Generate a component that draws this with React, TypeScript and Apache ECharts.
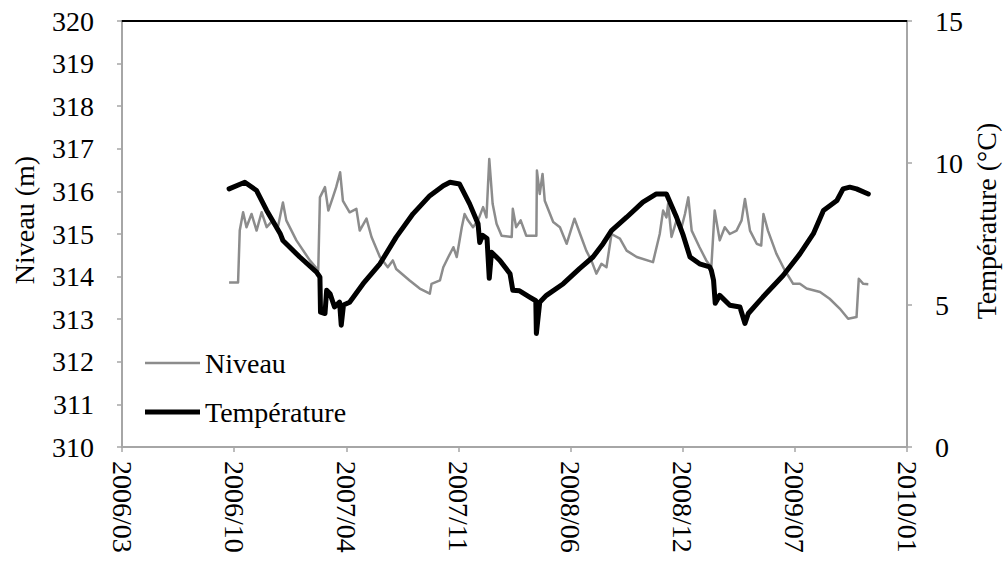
import React, { useEffect, useRef } from "react";
import * as echarts from "echarts";

// Niveau (m) — left axis
const niveauDates = [
  "2006-10-01","2006-10-17","2006-10-20","2006-10-26","2006-11-01","2006-11-10","2006-11-19","2006-11-28",
  "2006-12-07","2006-12-18","2006-12-27","2007-01-05","2007-01-11","2007-01-29","2007-02-22","2007-03-09",
  "2007-03-12","2007-03-21","2007-03-27","2007-04-04","2007-04-10","2007-04-17","2007-04-22","2007-05-04",
  "2007-05-16","2007-05-22","2007-06-03","2007-06-12","2007-06-27","2007-07-11","2007-07-20","2007-07-26",
  "2007-08-19","2007-09-06","2007-09-24","2007-09-27","2007-10-12","2007-10-18","2007-10-27","2007-11-05",
  "2007-11-11","2007-11-20","2007-11-25","2007-12-01","2007-12-10","2007-12-19","2007-12-28","2008-01-03",
  "2008-01-08","2008-01-14","2008-01-21","2008-01-30","2008-02-17","2008-02-19","2008-02-25","2008-03-04",
  "2008-03-14","2008-04-01","2008-04-02","2008-04-07","2008-04-12","2008-04-16","2008-05-01","2008-05-13",
  "2008-05-25","2008-06-08","2008-06-20","2008-06-29","2008-07-08","2008-07-17","2008-07-26","2008-08-04",
  "2008-08-13","2008-08-28","2008-09-09","2008-09-27","2008-10-26","2008-11-07","2008-11-13","2008-11-19",
  "2008-11-22","2008-11-28","2008-12-07","2008-12-16","2008-12-22","2008-12-28","2009-01-03","2009-01-17",
  "2009-01-29","2009-02-07","2009-02-13","2009-02-22","2009-03-03","2009-03-12","2009-03-24","2009-04-02",
  "2009-04-08","2009-04-17","2009-04-29","2009-05-07","2009-05-11","2009-05-19","2009-06-03","2009-06-18",
  "2009-07-03","2009-07-15","2009-07-27","2009-08-20","2009-09-06","2009-09-24","2009-10-09","2009-10-24",
  "2009-10-28","2009-11-05","2009-11-14"
];
const niveauValues = [
  313.86,313.86,315.08,315.51,315.16,315.47,315.08,315.51,
  315.16,315.32,315.16,315.74,315.32,314.85,314.38,314.15,
  315.86,316.1,315.55,315.86,316.1,316.45,315.78,315.51,
  315.59,315.08,315.36,314.93,314.46,314.22,314.38,314.18,
  313.91,313.72,313.6,313.83,313.91,314.22,314.46,314.69,
  314.46,315.16,315.47,315.32,315.16,315.32,315.63,315.39,
  316.76,315.71,315.24,314.96,314.93,315.59,315.16,315.32,
  314.96,314.96,316.49,315.94,316.41,315.78,315.28,315.16,
  314.77,315.36,314.93,314.61,314.38,314.07,314.3,314.22,
  315.0,314.89,314.61,314.46,314.34,315.0,315.55,315.39,
  315.71,314.93,315.32,315.16,315.47,315.86,315.08,314.69,
  314.38,314.22,315.55,314.85,315.16,315.0,315.08,315.32,
  315.82,315.08,314.77,314.73,315.47,315.08,314.54,314.15,
  313.83,313.83,313.72,313.64,313.48,313.25,313.01,313.05,
  313.95,313.83,313.82
];

// Température (°C) — right axis
const tempDates = [
  "2006-10-01","2006-10-29","2006-11-19","2006-12-07","2006-12-31","2007-01-05","2007-02-04","2007-03-06",
  "2007-03-12","2007-03-13","2007-03-21","2007-03-24","2007-03-30","2007-04-07","2007-04-16","2007-04-19",
  "2007-04-23","2007-05-04","2007-05-28","2007-06-27","2007-07-26","2007-08-25","2007-09-24","2007-10-18",
  "2007-10-30","2007-11-16","2007-12-04","2007-12-19","2007-12-22","2007-12-27","2008-01-04","2008-01-08",
  "2008-01-12","2008-01-27","2008-02-14","2008-02-19","2008-03-02","2008-03-20","2008-03-31","2008-04-01",
  "2008-04-07","2008-04-19","2008-05-19","2008-06-17","2008-07-11","2008-07-29","2008-08-13","2008-09-09",
  "2008-10-08","2008-11-01","2008-11-19","2008-12-07","2008-12-19","2008-12-31","2009-01-17","2009-02-04",
  "2009-02-07","2009-02-11","2009-02-14","2009-02-22","2009-03-12","2009-03-30","2009-04-08","2009-04-14",
  "2009-05-10","2009-06-15","2009-07-15","2009-08-08","2009-08-26","2009-09-19","2009-09-30","2009-10-12",
  "2009-10-24","2009-11-14"
];
const tempValues = [
  9.09,9.32,9.03,8.33,7.52,7.27,6.69,6.16,
  5.98,4.75,4.7,5.52,5.4,4.93,5.1,4.29,
  5.0,5.1,5.75,6.45,7.39,8.21,8.85,9.2,
  9.32,9.26,8.56,7.86,7.2,7.45,7.34,5.94,
  6.86,6.57,6.1,5.52,5.5,5.28,5.15,4.0,
  5.1,5.34,5.75,6.28,6.69,7.16,7.62,8.09,
  8.62,8.91,8.91,8.09,7.45,6.69,6.45,6.34,
  6.22,5.87,5.06,5.34,4.99,4.93,4.35,4.7,
  5.28,6.04,6.8,7.51,8.33,8.68,9.09,9.15,
  9.09,8.91
];

// x axis: Excel-style serial day numbers
const xMin = 38800;
const xMax = 40200;
const xStep = 200;

const EPOCH = Date.UTC(1899, 11, 30);
const DAY = 86400000;
const toSerial = (s: string) => {
  const [y, m, d] = s.split("-").map(Number);
  return Math.round((Date.UTC(y, m - 1, d) - EPOCH) / DAY);
};
const fmtSerial = (v: number) => {
  const dt = new Date(EPOCH + v * DAY);
  const mm = String(dt.getUTCMonth() + 1).padStart(2, "0");
  return dt.getUTCFullYear() + "/" + mm;
};

const FONT = "serif";

export default function App() {
  const ref = useRef<HTMLDivElement>(null);
  useEffect(() => {
    if (!ref.current) return;
    const chart = echarts.init(ref.current, null, { renderer: "svg" });
    const axisGrey = "#a6a6a6";
    chart.setOption({
      animation: false,
      backgroundColor: "#ffffff",
      textStyle: { fontFamily: FONT },
      grid: { left: 122, right: 96, top: 21, bottom: 118, containLabel: false },
      legend: {
        orient: "vertical",
        left: 145,
        top: 349,
        padding: 0,
        itemWidth: 55,
        itemHeight: 14,
        itemGap: 21,
        textStyle: { fontFamily: FONT, fontSize: 28, color: "#000" },
        data: [
          { name: "Niveau", icon: "path://M0,0 L55,0 L55,2.5 L0,2.5 Z" },
          { name: "Température", icon: "path://M0,0 L55,0 L55,5 L0,5 Z" },
        ],
      },
      xAxis: [
        {
          type: "value",
          min: xMin,
          max: xMax,
          interval: xStep,
          position: "bottom",
          splitLine: { show: false },
          axisLine: { show: true, lineStyle: { color: axisGrey, width: 2 } },
          axisTick: { show: true, length: 5, lineStyle: { color: axisGrey, width: 1.5 } },
          axisLabel: {
            rotate: -90,
            margin: 14,
            fontFamily: FONT,
            fontSize: 28,
            color: "#000",
            showMinLabel: true,
            showMaxLabel: true,
            formatter: (v: number) => fmtSerial(v),
          },
        },
        {
          type: "value",
          min: xMin,
          max: xMax,
          position: "top",
          splitLine: { show: false },
          axisLine: { show: true, lineStyle: { color: "#000", width: 2 } },
          axisTick: { show: false },
          axisLabel: { show: false },
        },
      ],
      yAxis: [
        {
          type: "value",
          min: 310,
          max: 320,
          interval: 1,
          position: "left",
          splitLine: { show: false },
          axisLine: { show: true, lineStyle: { color: axisGrey, width: 2 } },
          axisTick: { show: true, length: 5, lineStyle: { color: axisGrey, width: 1.5 } },
          axisLabel: { margin: 28, fontFamily: FONT, fontSize: 28, color: "#000" },
        },
        {
          type: "value",
          min: 0,
          max: 15,
          interval: 5,
          position: "right",
          splitLine: { show: false },
          axisLine: { show: true, lineStyle: { color: axisGrey, width: 2 } },
          axisTick: { show: true, length: 5, lineStyle: { color: axisGrey, width: 1.5 } },
          axisLabel: { margin: 28, fontFamily: FONT, fontSize: 28, color: "#000" },
        },
      ],
      graphic: [
        {
          type: "text",
          x: 24,
          y: 220,
          rotation: Math.PI / 2,
          style: {
            text: "Niveau (m)",
            fontFamily: FONT,
            fontSize: 28,
            fill: "#000",
            align: "center",
            verticalAlign: "middle",
          },
        },
        {
          type: "text",
          x: 986,
          y: 221,
          rotation: Math.PI / 2,
          style: {
            text: "Température (°C)",
            fontFamily: FONT,
            fontSize: 28,
            fill: "#000",
            align: "center",
            verticalAlign: "middle",
          },
        },
      ],
      series: [
        {
          name: "Niveau",
          type: "line",
          xAxisIndex: 0,
          yAxisIndex: 0,
          symbol: "none",
          showSymbol: false,
          lineStyle: { color: "#8c8c8c", width: 2.5, join: "round" },
          itemStyle: { color: "#8c8c8c" },
          data: niveauDates.map((d, i) => [toSerial(d), niveauValues[i]]),
        },
        {
          name: "Température",
          type: "line",
          xAxisIndex: 0,
          yAxisIndex: 1,
          symbol: "none",
          showSymbol: false,
          lineStyle: { color: "#000", width: 5, join: "round", cap: "round" },
          itemStyle: { color: "#000" },
          data: tempDates.map((d, i) => [toSerial(d), tempValues[i]]),
        },
      ],
    });
    return () => chart.dispose();
  }, []);
  return (
    <div
      ref={ref}
      style={{ position: "absolute", left: 0, top: 0, width: 1003, height: 565, background: "#fff" }}
    />
  );
}
